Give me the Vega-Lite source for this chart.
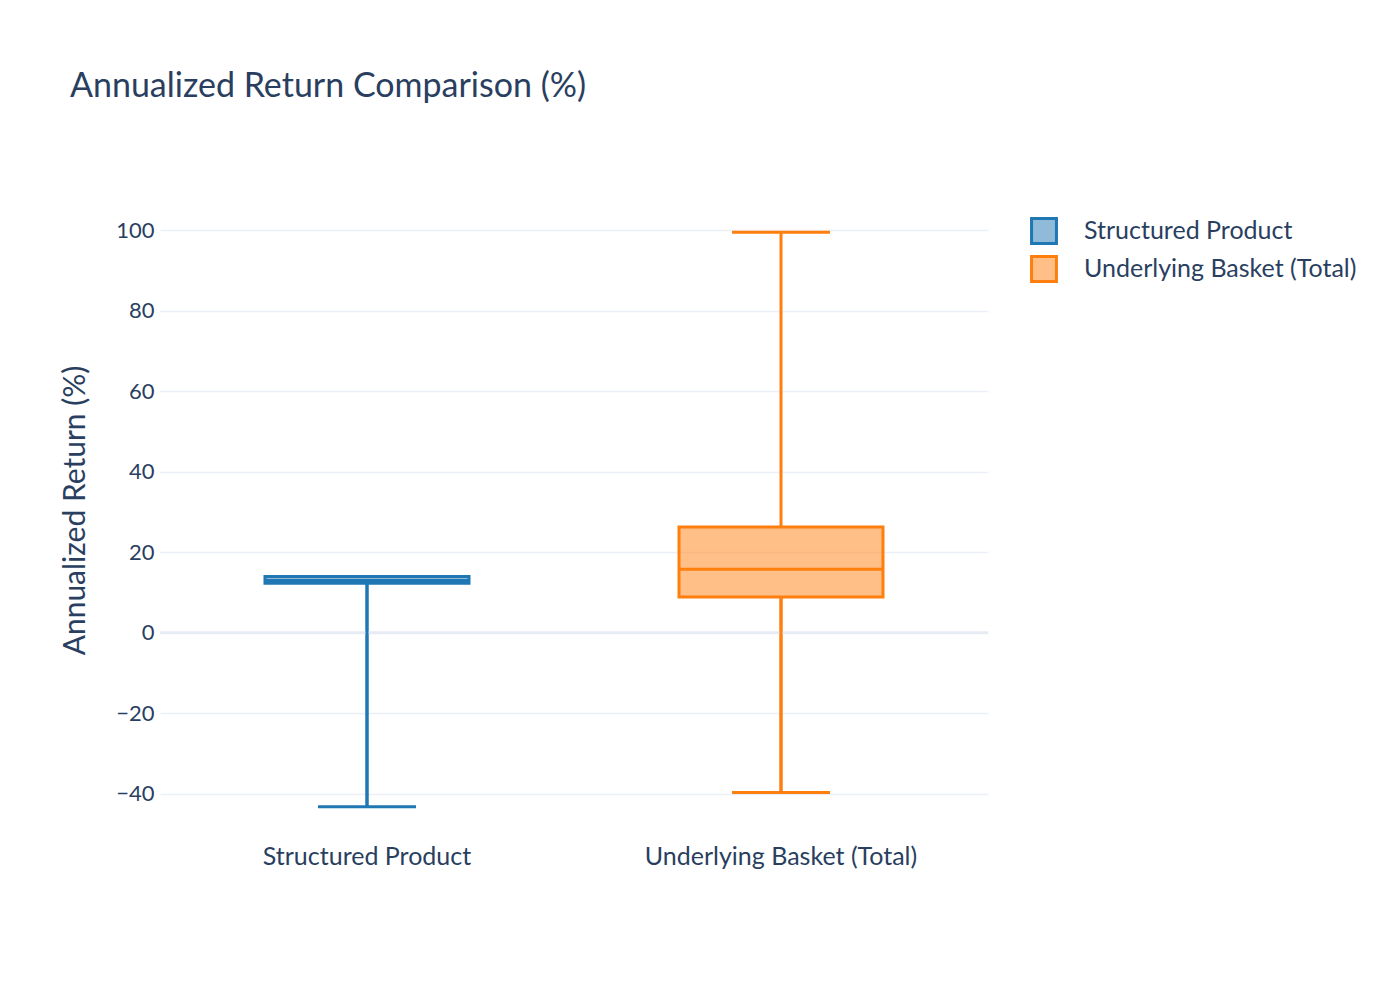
{
  "$schema": "https://vega.github.io/schema/vega-lite/v6.json",
  "description": "Annualized return box plot, pre-aggregated",
  "autosize": "none",
  "width": 828,
  "height": 620,
  "padding": {"left": 160, "top": 200, "right": 412, "bottom": 180},
  "background": "white",
  "config": {
    "font": "Lato",
    "view": {"stroke": null},
    "tick": {"opacity": 1},
    "axis": {"labelColor": "#2a3f5f", "titleColor": "#2a3f5f", "labelFont": "Lato", "titleFont": "Lato", "labelLimit": 0},
    "axisY": {"grid": true, "gridColor": "#ebf0f8", "gridWidth": 1.5},
    "legend": {"labelLimit": 0}
  },
  "title": {
    "text": "Annualized Return Comparison (%)",
    "anchor": "start",
    "frame": "group",
    "dx": -90,
    "offset": 96,
    "fontSize": 34,
    "fontWeight": "normal",
    "color": "#2a3f5f",
    "font": "Lato"
  },
  "data": {
    "values": [
      {"series": "Structured Product", "min": -43.2, "q1": 12.3, "median": 13.0, "q3": 14.0, "max": 14.0},
      {"series": "Underlying Basket (Total)", "min": -39.7, "q1": 8.9, "median": 15.8, "q3": 26.3, "max": 99.5}
    ]
  },
  "encoding": {
    "x": {
      "field": "series",
      "type": "nominal",
      "sort": null,
      "scale": {"paddingInner": 0, "paddingOuter": 0},
      "axis": {
        "title": null,
        "labelAngle": 0,
        "labelFontSize": 25,
        "labelPadding": 24,
        "ticks": false,
        "domain": false,
        "grid": false
      }
    }
  },
  "layer": [
    {
      "mark": {"type": "rule", "strokeWidth": 3},
      "encoding": {
        "y": {
          "field": "min",
          "type": "quantitative",
          "scale": {"domain": [-46.5, 107.5], "nice": false, "zero": false},
          "axis": {
            "title": "Annualized Return (%)",
            "titleFontSize": 30,
            "titleFontWeight": "normal",
            "titlePadding": 25,
            "labelFontSize": 22,
            "labelPadding": 6,
            "values": [-40, -20, 0, 20, 40, 60, 80, 100],
            "ticks": false,
            "domain": false,
            "grid": true
          }
        },
        "y2": {"field": "q1"},
        "stroke": {"field": "series", "type": "nominal", "scale": {"range": ["#1f77b4", "#ff7f0e"]}, "legend": null}
      }
    },
    {
      "mark": {"type": "rule", "color": "#e5eaf3", "strokeWidth": 2.5},
      "encoding": {"y": {"datum": 0, "type": "quantitative"}, "x": null}
    },
    {
      "mark": {"type": "rule", "strokeWidth": 3},
      "encoding": {
        "y": {"field": "min", "type": "quantitative"},
        "y2": {"field": "q1"},
        "stroke": {"field": "series", "type": "nominal", "legend": null}
      }
    },
    {
      "mark": {"type": "rule", "strokeWidth": 3},
      "encoding": {
        "y": {"field": "q3", "type": "quantitative"},
        "y2": {"field": "max"},
        "stroke": {"field": "series", "type": "nominal", "legend": null}
      }
    },
    {
      "mark": {"type": "tick", "size": 98, "thickness": 3},
      "encoding": {
        "y": {"field": "min", "type": "quantitative"},
        "color": {"field": "series", "type": "nominal", "scale": {"range": ["#1f77b4", "#ff7f0e"]}, "legend": null}
      }
    },
    {
      "mark": {"type": "tick", "size": 98, "thickness": 3},
      "encoding": {
        "y": {"field": "max", "type": "quantitative"},
        "color": {"field": "series", "type": "nominal", "legend": null}
      }
    },
    {
      "mark": {"type": "bar", "size": 204, "fillOpacity": 0.5, "strokeWidth": 3},
      "encoding": {
        "y": {"field": "q1", "type": "quantitative"},
        "y2": {"field": "q3"},
        "fill": {
          "field": "series",
          "type": "nominal",
          "scale": {"range": ["#1f77b4", "#ff7f0e"]},
          "legend": {
            "title": null,
            "orient": "none",
            "legendX": 870,
            "legendY": 17,
            "symbolType": "square",
            "symbolSize": 620,
            "symbolStrokeWidth": 3,
            "labelFontSize": 25,
            "labelColor": "#2a3f5f",
            "labelFont": "Lato",
            "labelOffset": 26,
            "rowPadding": 0,
            "encode": {"symbols": {"update": {"fillOpacity": {"value": 0.5}, "strokeWidth": {"value": 3}, "stroke": {"scale": "fill", "field": "value"}}}}
          }
        },
        "stroke": {"field": "series", "type": "nominal", "legend": null}
      }
    },
    {
      "mark": {"type": "tick", "size": 204, "thickness": 3},
      "encoding": {
        "y": {"field": "median", "type": "quantitative"},
        "color": {"field": "series", "type": "nominal", "legend": null}
      }
    }
  ]
}
